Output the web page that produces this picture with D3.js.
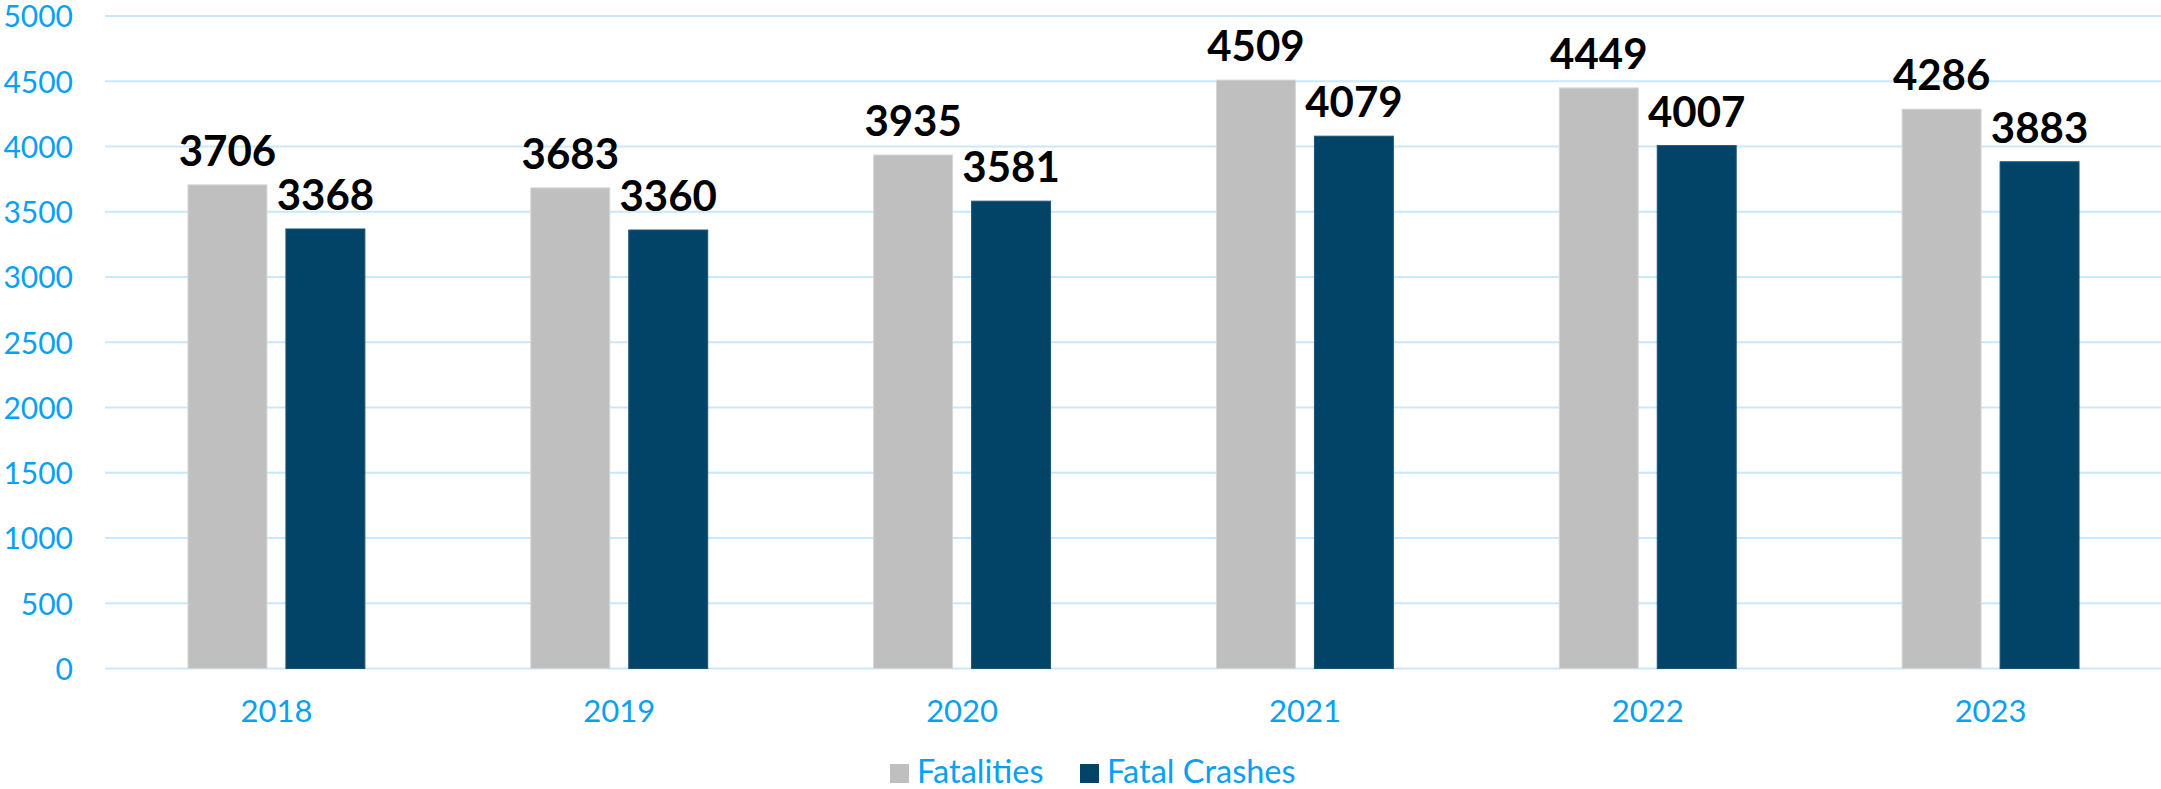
<!DOCTYPE html>
<html>
<head>
<meta charset="utf-8">
<script src="https://cdn.jsdelivr.net/npm/d3@7/dist/d3.min.js"></script>
<style>
  html, body { margin: 0; padding: 0; background: #fff; }
  svg { display: block; }
</style>
</head>
<body>
<svg id="chart" width="2161" height="789"></svg>
<script>
const years = ["2018", "2019", "2020", "2021", "2022", "2023"];
const seriesNames = ["Fatalities", "Fatal Crashes"];
const fatalities = [3706, 3683, 3935, 4509, 4449, 4286];
const fatalCrashes = [3368, 3360, 3581, 4079, 4007, 3883];
const yTicks = [0, 500, 1000, 1500, 2000, 2500, 3000, 3500, 4000, 4500, 5000];
const colors = ["#BFBFBF", "#024468"];

(function () {
const seriesValues = [fatalities, fatalCrashes];
const W = 2161;
const mLeft = 105, mRight = 2162, mTop = 16, mBottom = 668.5;

const svg = d3.select("#chart");
const font = "Lato, 'Open Sans', sans-serif";

const x0 = d3.scaleBand().domain(years).range([mLeft, mRight]).paddingInner(0).paddingOuter(0);
const groupW = x0.bandwidth() * 0.516;
const x1 = d3.scaleBand().domain(seriesNames)
  .range([(x0.bandwidth() - groupW) / 2, (x0.bandwidth() + groupW) / 2])
  .paddingInner(0.194).paddingOuter(0);
const y = d3.scaleLinear().domain([0, 5000]).range([mBottom, mTop]);

// gridlines
svg.append("g").selectAll("line").data(yTicks).join("line")
  .attr("x1", mLeft).attr("x2", W)
  .attr("y1", d => y(d)).attr("y2", d => y(d))
  .attr("stroke", "#c9e8fb").attr("stroke-width", 2);

// y axis labels
const yAxis = d3.axisLeft(y).tickValues(yTicks).tickSize(0).tickPadding(0).tickFormat(d3.format("d"));
const gy = svg.append("g").attr("transform", "translate(73,0)").call(yAxis);
gy.select(".domain").remove();
gy.selectAll("text").attr("font-family", font).attr("font-size", 30)
  .attr("fill", "#0aa0f0").attr("dy", "0.36em");

// x axis labels
const xAxis = d3.axisBottom(x0).tickSize(0).tickPadding(0);
const gx = svg.append("g").attr("transform", "translate(0,722)").call(xAxis);
gx.select(".domain").remove();
gx.selectAll("text").attr("font-family", font).attr("font-size", 31)
  .attr("fill", "#0aa0f0").attr("dy", 0);

// bars
const data = [];
years.forEach((yr, i) => seriesNames.forEach((s, j) => data.push({ yr, s, j, v: seriesValues[j][i] })));

const g = svg.append("g");
g.selectAll("rect").data(data).join("rect")
  .attr("x", d => x0(d.yr) + x1(d.s))
  .attr("width", x1.bandwidth())
  .attr("y", d => y(d.v))
  .attr("height", d => y(0) - y(d.v))
  .attr("fill", d => colors[d.j])
  .attr("stroke", d => d.j === 0 ? "#d6d6d6" : "#1a5578")
  .attr("stroke-width", 1);

g.selectAll("text.val").data(data).join("text")
  .attr("class", "val")
  .attr("x", d => x0(d.yr) + x1(d.s) + x1.bandwidth() / 2)
  .attr("y", d => y(d.v) - 19)
  .attr("text-anchor", "middle")
  .attr("font-family", font).attr("font-weight", "bold").attr("font-size", 42)
  .attr("fill", "#000")
  .text(d => d.v);

// legend
const legendItems = [
  { name: seriesNames[0], color: colors[0], x: 890 },
  { name: seriesNames[1], color: colors[1], x: 1080 }
];
const lg = svg.append("g");
legendItems.forEach(it => {
  lg.append("rect").attr("x", it.x).attr("y", 764).attr("width", 19).attr("height", 19).attr("fill", it.color);
  lg.append("text").attr("x", it.x + 27).attr("y", 783.3)
    .attr("font-family", font).attr("font-size", 32.5).attr("fill", "#0aa0f0").text(it.name);
});
})();
</script>
</body>
</html>
